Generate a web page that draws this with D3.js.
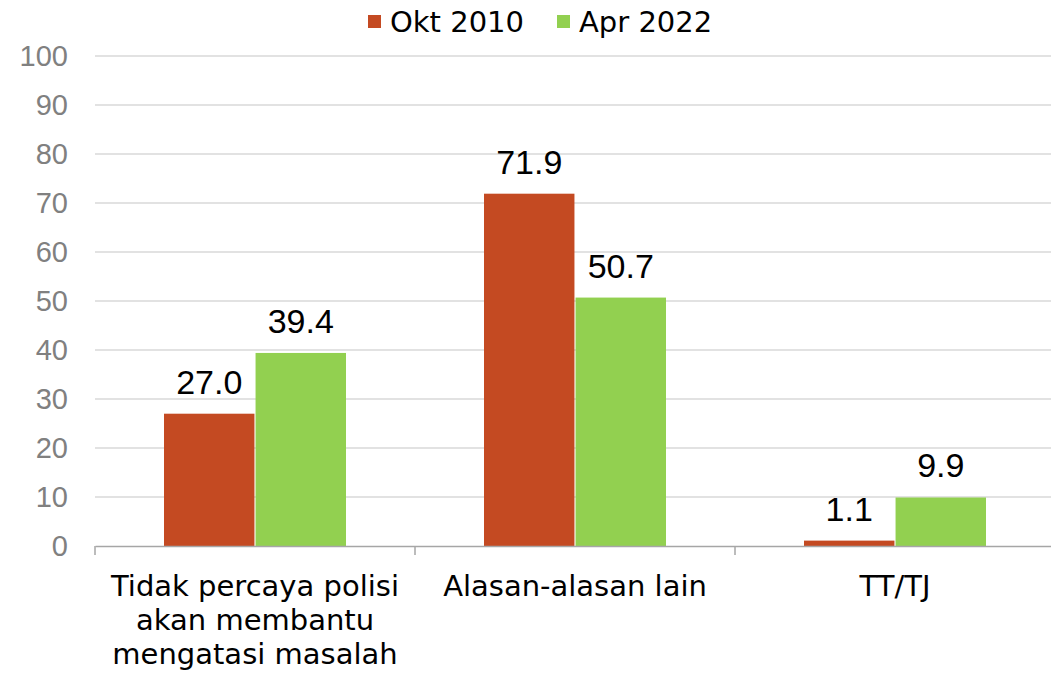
<!DOCTYPE html>
<html>
<head>
<meta charset="utf-8">
<script src="https://cdn.jsdelivr.net/npm/d3@7"></script>
<style>
  body { margin: 0; background: #fff; }
  text { font-family: "DejaVu Sans", "Liberation Sans", sans-serif; }
  .num { font-family: "Liberation Sans", Arial, sans-serif; }
</style>
</head>
<body>
<div id="chart"></div>
<script>
// chart data
var categories = ["Tidak percaya polisi akan membantu mengatasi masalah", "Alasan-alasan lain", "TT/TJ"];
var categoryLines = [["Tidak percaya polisi", "akan membantu", "mengatasi masalah"], ["Alasan-alasan lain"], ["TT/TJ"]];
var seriesNames = ["Okt 2010", "Apr 2022"];
var okt2010 = [27.0, 71.9, 1.1];
var apr2022 = [39.4, 50.7, 9.9];
var yTicks = [0, 10, 20, 30, 40, 50, 60, 70, 80, 90, 100];
var colors = ["#C44A22", "#92D050"];

// size of svg and plot area
var svgWidth = 1051, svgHeight = 678;
var margin = {top: 56, left: 95};
var width = 960, height = 490;

var svg = d3.select("#chart")
    .append("svg")
    .attr("width", svgWidth)
    .attr("height", svgHeight);

var g = svg.append("g")
    .attr("transform", "translate(" + margin.left + "," + margin.top + ")");

// scales
var x = d3.scaleBand()
    .domain(categories)
    .range([0, width]);

var x1 = d3.scaleBand()
    .domain(seriesNames)
    .range([69, x.bandwidth() - 69])
    .paddingInner(0.012);

var y = d3.scaleLinear()
    .domain([0, 100])
    .range([height, 0]);

// gridlines
g.selectAll(".grid")
    .data(yTicks.slice(1))
    .enter().append("line")
    .attr("x1", 0)
    .attr("x2", width)
    .attr("y1", function(d) { return y(d); })
    .attr("y2", function(d) { return y(d); })
    .attr("stroke", "#d9d9d9")
    .attr("stroke-width", 1.5);

// y tick labels
g.selectAll(".ylab")
    .data(yTicks)
    .enter().append("text")
    .attr("class", "num")
    .attr("x", -27)
    .attr("y", function(d) { return y(d); })
    .attr("dy", "0.36em")
    .attr("text-anchor", "end")
    .attr("fill", "#808080")
    .style("font-size", "29px")
    .text(function(d) { return d; });

// bars
var rows = categories.map(function(c, i) {
  return {cat: c, vals: [okt2010[i], apr2022[i]]};
});

var groups = g.selectAll(".cat")
    .data(rows)
    .enter().append("g")
    .attr("transform", function(d) { return "translate(" + x(d.cat) + ",0)"; });

groups.selectAll("rect")
    .data(function(d) { return d.vals.map(function(v, j) { return {name: seriesNames[j], v: v, j: j}; }); })
    .enter().append("rect")
    .attr("x", function(d) { return x1(d.name); })
    .attr("width", x1.bandwidth())
    .attr("y", function(d) { return y(d.v); })
    .attr("height", function(d) { return height - y(d.v); })
    .attr("fill", function(d) { return colors[d.j]; });

// value labels
groups.selectAll(".val")
    .data(function(d) { return d.vals.map(function(v, j) { return {name: seriesNames[j], v: v}; }); })
    .enter().append("text")
    .attr("class", "num")
    .attr("x", function(d) { return x1(d.name) + x1.bandwidth() / 2; })
    .attr("y", function(d) { return y(d.v) - 20; })
    .attr("text-anchor", "middle")
    .attr("fill", "#000")
    .style("font-size", "34px")
    .text(function(d) { return d.v.toFixed(1); });

// x axis
var xAxis = d3.axisBottom(x).tickSize(0).tickFormat("");
var axisG = g.append("g")
    .attr("transform", "translate(0," + height + ")")
    .call(xAxis);
axisG.select(".domain").attr("stroke", "#a6a6a6").attr("stroke-width", 1.5);

// category separators
g.selectAll(".sep")
    .data([0, 1, 2, 3])
    .enter().append("line")
    .attr("x1", function(d) { return d * x.bandwidth(); })
    .attr("x2", function(d) { return d * x.bandwidth(); })
    .attr("y1", height)
    .attr("y2", height + 9)
    .attr("stroke", "#a6a6a6")
    .attr("stroke-width", 1.5);

// category labels
groups.each(function(d, i) {
  var t = d3.select(this).append("text")
      .attr("text-anchor", "middle")
      .attr("fill", "#000")
      .style("font-size", "29px");
  categoryLines[i].forEach(function(line, k) {
    t.append("tspan")
        .attr("x", x.bandwidth() / 2)
        .attr("y", height + 50 + k * 34)
        .text(line);
  });
});

// legend
var legend = svg.append("g");
var legendX = [368, 557];
seriesNames.forEach(function(name, i) {
  legend.append("rect")
      .attr("x", legendX[i])
      .attr("y", 15)
      .attr("width", 13)
      .attr("height", 13)
      .attr("fill", colors[i]);
  legend.append("text")
      .attr("x", legendX[i] + 22)
      .attr("y", 22)
      .attr("dy", "0.36em")
      .attr("fill", "#000")
      .style("font-size", "29px")
      .text(name);
});
</script>
</body>
</html>
